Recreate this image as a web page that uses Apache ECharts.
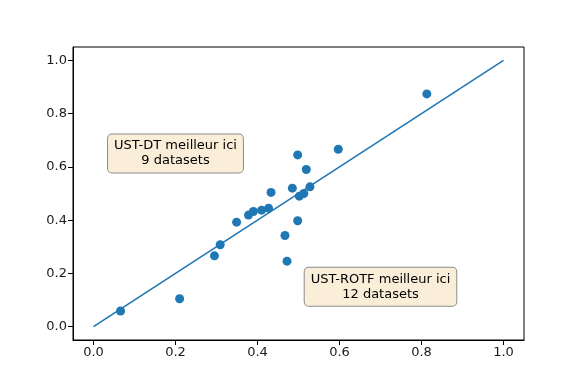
<!DOCTYPE html>
<html><head><meta charset="utf-8">
<script src="https://cdn.jsdelivr.net/npm/echarts@6/dist/echarts.min.js"></script>
<style>html,body{margin:0;padding:0;background:#fff}#c{width:582px;height:388px}</style>
</head><body><div id="c"></div>
<script>
// data (x = UST-ROTF score, y = UST-DT score)
const xVals = [0.813, 0.597, 0.498, 0.519, 0.485, 0.528, 0.502, 0.513, 0.433, 0.427, 0.410, 0.390, 0.378, 0.349, 0.498, 0.467, 0.472, 0.309, 0.295, 0.210, 0.066];
const yVals = [0.874, 0.666, 0.645, 0.590, 0.520, 0.525, 0.490, 0.500, 0.504, 0.445, 0.4375, 0.4325, 0.419, 0.3925, 0.3975, 0.3425, 0.246, 0.3075, 0.266, 0.105, 0.059];
const diagX = [0, 1];
const diagY = [0, 1];
const xTicks = [0, 0.2, 0.4, 0.6, 0.8, 1.0];
const yTicks = [0, 0.2, 0.4, 0.6, 0.8, 1.0];
const annotations = [
  {x: 0.2, y: 0.65, lines: ['UST-DT meilleur ici', '9 datasets']},
  {x: 0.7, y: 0.15, lines: ['UST-ROTF meilleur ici', '12 datasets']}
];

const font = 'DejaVu Sans';
const blue = '#1f77b4';
const chart = echarts.init(document.getElementById('c'), null, {renderer: 'canvas'});
const axisCommon = {
  type: 'value', min: -0.05, max: 1.05,
  splitLine: {show: false},
  axisLine: {show: true, onZero: false, lineStyle: {color: '#000', width: 1}},
  axisTick: {show: true, inside: false, length: 5, lineStyle: {color: '#000', width: 1}},
  axisLabel: {fontFamily: font, fontSize: 13, color: '#1a1a1a', margin: 6,
    formatter: v => Number(v).toFixed(1)}
};
chart.setOption({
  animation: false,
  grid: {left: 73, right: 58, top: 47, bottom: 48, show: true, borderColor: '#000', borderWidth: 1},
  xAxis: Object.assign({}, axisCommon, {
    axisTick: Object.assign({}, axisCommon.axisTick, {customValues: xTicks}),
    axisLabel: Object.assign({}, axisCommon.axisLabel, {customValues: xTicks})
  }),
  yAxis: Object.assign({}, axisCommon, {
    axisTick: Object.assign({}, axisCommon.axisTick, {customValues: yTicks}),
    axisLabel: Object.assign({}, axisCommon.axisLabel, {customValues: yTicks})
  }),
  series: [
    {type: 'line', data: diagX.map((x, i) => [x, diagY[i]]), showSymbol: false, symbol: 'none',
     lineStyle: {color: blue, width: 1.6}, z: 2},
    {type: 'scatter', data: xVals.map((x, i) => [x, yVals[i]]), symbolSize: 9,
     itemStyle: {color: blue, opacity: 1}, z: 3},
    {type: 'scatter', data: annotations.map(a => ({value: [a.x, a.y], name: a.lines.join('\n')})),
     symbolSize: 0, z: 4, silent: true,
     label: {show: true, position: 'inside', formatter: p => p.name,
       fontFamily: font, fontSize: 13, color: '#000', opacity: 1, lineHeight: 15, align: 'center',
       backgroundColor: '#faeed9', borderColor: '#8c8c8c', borderWidth: 1, borderRadius: 4,
       padding: [4, 6, 4, 6]}}
  ]
});
</script></body></html>
